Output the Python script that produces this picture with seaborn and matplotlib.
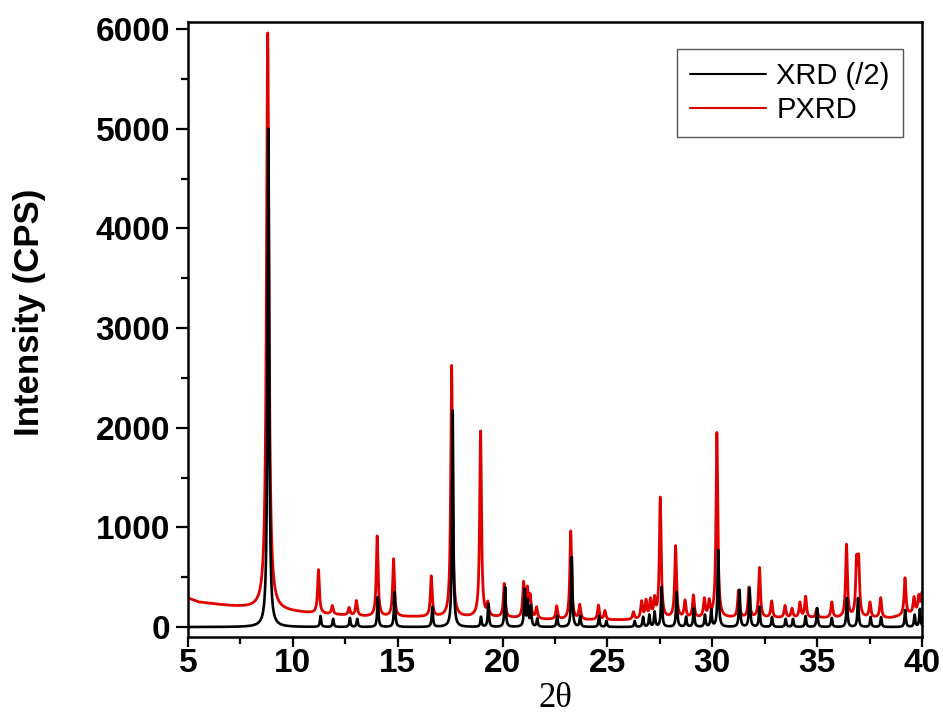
import numpy as np
import pandas as pd
import seaborn as sns
import matplotlib.pyplot as plt
from matplotlib.ticker import MultipleLocator

# peak list of the calculated pattern (already divided by 2)
xrd_pos = [8.83, 11.32, 11.92, 12.72, 13.07, 14.05, 14.85, 16.65, 17.62, 18.97,
           19.32, 20.12, 21.05, 21.20, 21.35, 21.65, 22.60, 23.30, 23.70, 24.60,
           24.95, 26.30, 26.70, 27.00, 27.25, 27.58, 28.30, 28.75, 29.12, 29.65,
           29.95, 30.28, 31.30, 31.78, 32.25, 32.85, 33.50, 33.85, 34.45, 35.00,
           35.70, 36.42, 36.95, 37.55, 38.05, 39.20, 39.65, 39.90]
xrd_height = [5000, 110, 80, 90, 80, 300, 350, 200, 2170, 100,
              230, 400, 370, 250, 200, 80, 110, 700, 110, 110,
              60, 60, 100, 120, 150, 400, 350, 100, 190, 120,
              170, 770, 370, 390, 200, 100, 80, 80, 110, 190,
              90, 290, 290, 100, 100, 170, 120, 180]

# peak list of the measured powder pattern (peak top values)
pxrd_pos = [8.80, 11.22, 11.88, 12.68, 13.03, 14.02, 14.80, 16.60, 17.57, 18.95,
            19.30, 20.08, 21.00, 21.18, 21.32, 21.62, 22.58, 23.25, 23.68, 24.57,
            24.88, 26.24, 26.63, 26.84, 27.05, 27.25, 27.52, 28.25, 28.70, 29.10,
            29.62, 29.85, 30.22, 31.25, 31.75, 32.25, 32.83, 33.47, 33.80, 34.18,
            34.45, 34.98, 35.70, 36.40, 36.88, 36.98, 37.52, 38.03, 39.19, 39.62,
            39.85, 40.00]
pxrd_height = [5960, 570, 210, 190, 260, 910, 680, 505, 2620, 1960,
               220, 430, 430, 360, 290, 190, 205, 960, 215, 215,
               160, 145, 245, 250, 255, 260, 1290, 805, 255, 310,
               270, 240, 1945, 360, 390, 590, 255, 210, 180, 240,
               300, 180, 245, 820, 610, 620, 240, 290, 490, 290,
               300, 330]

# background of the measured pattern
bg_pos = [5, 5.5, 7, 8, 9.5, 11, 13.5, 17, 20, 22, 24, 26, 28, 31, 34, 37, 38.5, 40]
bg_val = [290, 250, 210, 190, 160, 135, 105, 100, 95, 75, 70, 70, 85, 90, 90, 90, 90, 150]

twotheta = np.arange(5, 40.0001, 0.005)


def profile(x, pos, amp, hwhm):
    y = np.zeros_like(x)
    for p, a, g in zip(pos, amp, hwhm):
        y += a * g**2 / ((x - p)**2 + g**2)
    return y


xrd_w = [0.045 if h > 3000 else 0.035 for h in xrd_height]
xrd = profile(twotheta, xrd_pos, xrd_height, xrd_w)

bg = np.interp(twotheta, bg_pos, bg_val)
pxrd_amp = np.array(pxrd_height) - np.interp(pxrd_pos, bg_pos, bg_val)
pxrd_w = [0.07 if h > 3000 else 0.05 for h in pxrd_height]
pxrd = bg + profile(twotheta, pxrd_pos, pxrd_amp, pxrd_w)

df = pd.DataFrame({"2theta": twotheta, "XRD (/2)": xrd, "PXRD": pxrd})

sns.set_style("ticks")
plt.rcParams['font.family'] = ['Liberation Sans', 'DejaVu Sans']
for key in ['text.color', 'axes.labelcolor', 'xtick.color', 'ytick.color',
            'axes.edgecolor']:
    plt.rcParams[key] = 'black'

fig = plt.figure(figsize=(9.43, 7.19), dpi=100)
ax = fig.add_axes([0.1994, 0.1140, 0.7783, 0.8554])

sns.lineplot(data=df, x="2theta", y="PXRD", color="#e00000", lw=2.0,
             label="PXRD", ax=ax, zorder=2)
sns.lineplot(data=df, x="2theta", y="XRD (/2)", color="black", lw=1.9,
             label="XRD (/2)", ax=ax, zorder=3)

ax.set_xlim(5, 40)
ax.set_ylim(-100, 6070)
ax.xaxis.set_major_locator(MultipleLocator(5))
ax.xaxis.set_minor_locator(MultipleLocator(2.5))
ax.yaxis.set_major_locator(MultipleLocator(1000))
ax.yaxis.set_minor_locator(MultipleLocator(500))
ax.tick_params(which='major', direction='out', width=1.6, labelsize=24)
ax.tick_params(axis='x', which='major', length=7, pad=1)
ax.tick_params(axis='y', which='major', length=9, pad=4)
ax.tick_params(which='minor', direction='out', length=5, width=1.6)
for lab in ax.get_xticklabels() + ax.get_yticklabels():
    lab.set_fontweight('bold')
for sp in ax.spines.values():
    sp.set_visible(True)
    sp.set_linewidth(1.8)

ax.set_xlabel("2θ", fontsize=25, family=['Liberation Serif', 'DejaVu Serif'],
              labelpad=2)
ax.set_ylabel("Intensity (CPS)", fontsize=25, fontweight='bold')
ax.yaxis.set_label_coords(-0.193, 0.528)

handles, labels = ax.get_legend_handles_labels()
leg = ax.legend(handles[::-1], labels[::-1], loc='upper right',
                bbox_to_anchor=(0.974, 0.956), borderaxespad=0,
                fontsize=21, handlelength=2.6, handletextpad=0.35,
                labelspacing=0.2, borderpad=0.45, fancybox=False,
                edgecolor='#555555', framealpha=1)
for line in leg.get_lines():
    line.set_linewidth(1.5)

fig.savefig("out.png", dpi=100)
